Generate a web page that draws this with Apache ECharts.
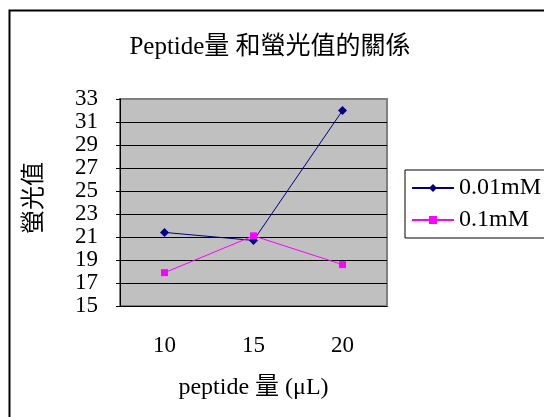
<!DOCTYPE html>
<html><head><meta charset="utf-8">
<script src="https://cdn.jsdelivr.net/npm/echarts@6/dist/echarts.min.js"></script>
<style>html,body{margin:0;padding:0;background:#fff}#c{width:544px;height:417px}</style>
</head><body><div id="c"></div>
<script>
const categories = ['10', '15', '20'];
const series001 = [21.4, 20.7, 32.0];
const series01 = [17.9, 21.1, 18.6];
const seriesNames = ['0.01mM', '0.1mM'];
const titleText = 'Peptide量 和螢光值的關係';
const xName = 'peptide 量 (μL)';
const yName = '螢光值';
const FONT = '"Liberation Serif", "Noto Sans CJK TC", serif';

const chart = echarts.init(document.getElementById('c'), null, {renderer: 'canvas'});
chart.setOption({
  backgroundColor: '#fff',
  animation: false,
  graphic: [{
    type: 'rect', shape: {x: 9.5, y: 10.5, width: 600, height: 500},
    style: {fill: 'none', stroke: '#000', lineWidth: 2}, silent: true, z: -1
  }, {
    type: 'text', left: 23, top: 162, rotation: Math.PI / 2,
    style: {text: yName, font: '24px ' + FONT, fill: '#000'}
  }],
  title: {
    text: titleText, left: 265, top: 30, textAlign: 'center',
    textStyle: {fontFamily: FONT, fontSize: 25, fontWeight: 'normal', color: '#000'}
  },
  legend: {
    left: 405, top: 170, orient: 'vertical',
    data: seriesNames,
    borderColor: '#000', borderWidth: 1, padding: [6, 10, 6, 6],
    itemGap: 8, itemWidth: 42, itemHeight: 10,
    textStyle: {fontFamily: FONT, fontSize: 24, color: '#000'}
  },
  grid: {
    left: 120, right: 157, top: 99, bottom: 111,
    show: true, backgroundColor: '#c0c0c0', borderColor: '#808080', borderWidth: 2
  },
  xAxis: {
    type: 'category', data: categories, boundaryGap: true,
    name: xName, nameLocation: 'middle', nameGap: 70,
    nameTextStyle: {fontFamily: FONT, fontSize: 24, color: '#000'},
    axisLine: {lineStyle: {color: '#000', width: 1}},
    axisTick: {inside: true, length: 7, lineStyle: {color: '#000'}},
    axisLabel: {fontFamily: FONT, fontSize: 23, color: '#000', margin: 28}
  },
  yAxis: {
    type: 'value', min: 15, max: 33, interval: 2,
    axisLine: {show: true, lineStyle: {color: '#000', width: 1}},
    axisTick: {show: true, length: 4, lineStyle: {color: '#000'}},
    axisLabel: {fontFamily: FONT, fontSize: 23, color: '#000', margin: 22},
    splitLine: {show: true, showMinLine: false, showMaxLine: false, lineStyle: {color: '#000', width: 1}}
  },
  series: [{
    name: seriesNames[0], type: 'line', data: series001,
    symbol: 'diamond', symbolSize: 9, color: '#000080',
    lineStyle: {width: 1, color: '#000080'}, itemStyle: {color: '#000080'}
  }, {
    name: seriesNames[1], type: 'line', data: series01,
    symbol: 'rect', symbolSize: 7, color: '#ff00ff',
    lineStyle: {width: 1, color: '#ff00ff'}, itemStyle: {color: '#ff00ff'}
  }]
});
</script></body></html>
